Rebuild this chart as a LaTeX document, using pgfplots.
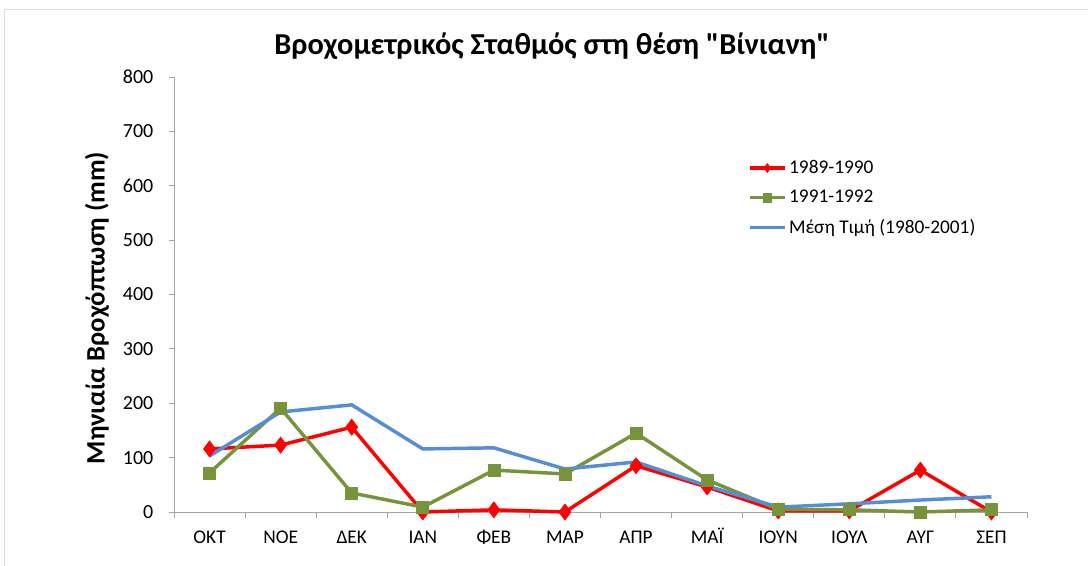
\documentclass[border=0pt]{standalone}
\usepackage{pgfplots}
\pgfplotsset{compat=1.18}
\usepackage{fontspec}
\setmainfont{Carlito}
\newfontfamily\boldcal{Carlito Bold}[Ligatures=TeXOff]
\definecolor{cred}{RGB}{255,0,0}
\definecolor{cgreen}{RGB}{119,147,60}
\definecolor{cblue}{RGB}{85,142,213}
\definecolor{cgray}{RGB}{165,165,165}
\pgfplotstableread{
x r g b
0 116 72 103
1 123 191 184
2 156 35 197
3 0 9 116
4 4 77 118
5 0 70 79
6 85 145 92
7 46 59 48
8 2 5 9
9 2 4 15
10 77 0 22
11 0 4 28
}\datatable
\begin{document}
\begin{tikzpicture}[x=0.75pt,y=0.75pt]
\path[use as bounding box] (0,0) rectangle (1088,565);
\draw[draw={rgb,255:red,217;green,217;blue,217}, line width=0.75pt] (4,-2) -- (4,555) -- (1092,555);
\node[font=\boldcal\fontsize{22.8}{26}\selectfont] at (552,519) {Βροχομετρικός Σταθμός στη θέση "Βίνιανη"};
\node[font=\boldcal\fontsize{20}{22}\selectfont, rotate=90] at (97,257) {Μηνιαία Βροχόπτωση (mm)};
\coordinate (O) at (174,53);
\begin{axis}[
  at={(O)}, anchor=south west,
  scale only axis, width=639.75pt, height=326.25pt,
  xmin=-0.5, xmax=11.5, ymin=0, ymax=800,
  axis x line*=bottom, axis y line*=left,
  axis line style={cgray, line width=0.75pt},
  every tick/.style={cgray, line width=0.75pt},
  tick align=outside,
  xtick={0,...,11},
  xticklabels={ΟΚΤ,ΝΟΕ,ΔΕΚ,ΙΑΝ,ΦΕΒ,ΜΑΡ,ΑΠΡ,ΜΑΪ,ΙΟΥΝ,ΙΟΥΛ,ΑΥΓ,ΣΕΠ},
  major x tick style={draw=none},
  minor xtick={-0.5,0.5,...,11.5},
  minor tick length=4.5pt,
  ytick={0,100,...,800},
  major tick length=4pt,
  /pgf/number format/assume math mode=true,
  tick label style={font=\fontsize{15}{17}\selectfont},
  xticklabel style={yshift=-7pt, text height=9.3pt, text depth=0pt, font=\fontsize{14.5}{17}\selectfont},
  yticklabel style={xshift=-8pt},
  legend style={at={(0.673,0.815)}, anchor=north west, draw=none, fill=none,
    font=\fontsize{14.5}{17}\selectfont, row sep=7pt, inner sep=0pt},
  legend cell align=left,
  legend image code/.code={\draw[#1, mark size=3.3pt] (0pt,0pt) -- (26pt,0pt) plot coordinates {(13pt,0pt)};},
  clip=false,
]
\addplot[cred, line width=2.6pt, mark=diamond*, mark size=6pt, mark options={line width=0.5pt}] table[x=x,y=r]{\datatable};
\addlegendentry{1989-1990}
\addplot[cgreen, line width=2.6pt, mark=square*, mark size=4.5pt, mark options={line width=0.5pt}] table[x=x,y=g]{\datatable};
\addlegendentry{1991-1992}
\addplot[cblue, line width=2.6pt, mark=none] table[x=x,y=b]{\datatable};
\addlegendentry{Μέση Τιμή (1980-2001)}
\end{axis}
\end{tikzpicture}
\end{document}
